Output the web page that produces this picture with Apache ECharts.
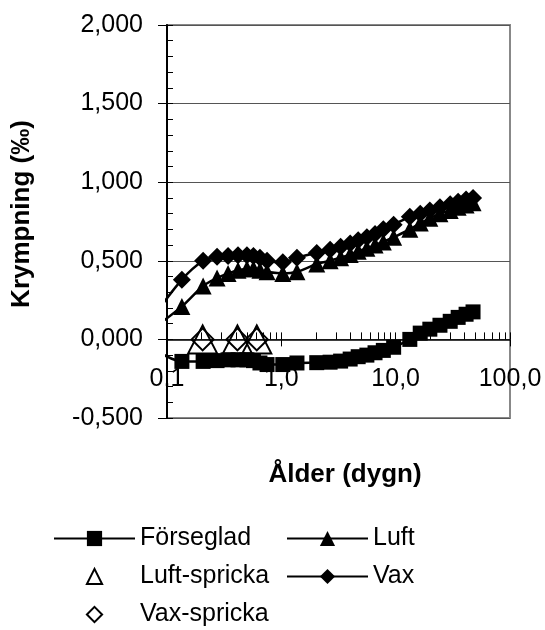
<!DOCTYPE html>
<html><head><meta charset="utf-8">
<script src="https://cdn.jsdelivr.net/npm/echarts@6/dist/echarts.min.js"></script>
<style>html,body{margin:0;padding:0;background:#fff}#c{width:545px;height:630px}</style>
</head><body><div id="c"></div>
<script>
// ---- data ----
const ages = [0.135,0.207,0.274,0.342,0.418,0.5,0.57,0.65,0.75,1.03,1.37,2.04,2.67,3.3,4.0,4.7,5.6,6.6,7.8,9.6,13.3,16.4,19.9,24.4,30,35.2,41.3,47.5];
const forsVal = [-0.14,-0.14,-0.135,-0.13,-0.13,-0.13,-0.135,-0.15,-0.16,-0.16,-0.15,-0.148,-0.145,-0.138,-0.125,-0.11,-0.10,-0.085,-0.07,-0.05,0.0,0.04,0.065,0.09,0.115,0.14,0.16,0.175];
const luftVal = [0.21,0.34,0.39,0.42,0.44,0.45,0.45,0.44,0.43,0.42,0.43,0.48,0.50,0.52,0.54,0.56,0.58,0.60,0.62,0.65,0.70,0.74,0.77,0.80,0.82,0.84,0.855,0.87];
const vaxVal = [0.38,0.50,0.525,0.53,0.535,0.535,0.53,0.52,0.50,0.49,0.52,0.55,0.57,0.59,0.61,0.63,0.65,0.67,0.70,0.73,0.78,0.80,0.82,0.84,0.86,0.875,0.89,0.90];
// earlier reading (before 0.1 dygn), only its line segment is visible
const leadAge = 0.074;
const leadFors = -0.055, leadLuft = 0.063, leadVax = 0.133;
const sprickaAge = [0.205, 0.413, 0.61];
const luftSprickaVal = [0, 0, 0];
const vaxSprickaVal = [0, 0, 0];
const seriesNames = ['Förseglad', 'Luft', 'Luft-spricka', 'Vax', 'Vax-spricka'];
const xTickValues = [0.1, 1, 10, 100];
const xTickLabels = ['0,1', '1,0', '10,0', '100,0'];
const xMinorTicks = [0.1,0.2,0.3,0.4,0.5,0.6,0.7,0.8,0.9,1,2,3,4,5,6,7,8,9,10,20,30,40,50,60,70,80,90,100];
const yTickValues = [-0.5, 0, 0.5, 1, 1.5, 2];
const yTickLabels = ['-0,500', '0,000', '0,500', '1,000', '1,500', '2,000'];
const xTitle = 'Ålder (dygn)';
const yTitle = 'Krympning (‰)';

const FONT = '"Liberation Sans", Arial, sans-serif';
const GRID = { left: 167, right: 35, top: 25, bottom: 212 };
const PLOT_H = 630 - GRID.top - GRID.bottom;
const Y_MIN = -0.5, Y_MAX = 2;
// x axis crosses the y axis at 0: shift it up from the grid bottom by the height of the span below 0
const X_AXIS_OFFSET = -PLOT_H * (0 - Y_MIN) / (Y_MAX - Y_MIN);

const pairs = (xs, ys) => xs.map((x, i) => [x, ys[i]]);
const withLead = (lead, vals) => [{ value: [leadAge, lead], symbol: 'none' }].concat(pairs(ages, vals));

function xLabel(v) {
  const i = xTickValues.findIndex(t => Math.abs(Math.log10(t) - Math.log10(v)) < 1e-6);
  return i >= 0 ? xTickLabels[i] : '';
}
function yLabel(v) {
  const i = yTickValues.findIndex(t => Math.abs(t - v) < 1e-6);
  return i >= 0 ? yTickLabels[i] : '';
}

const lineSeries = (name, vals, lead, symbol, size) => ({
  name, type: 'line', data: withLead(lead, vals), xAxisIndex: 0, yAxisIndex: 0,
  symbol, symbolSize: size, showAllSymbol: true, smooth: 0.3, clip: false,
  lineStyle: { color: '#000', width: 2.5 },
  itemStyle: { color: '#000' }, z: 3
});
const hollowSeries = (name, vals, symbol, size) => ({
  name, type: 'line', data: pairs(sprickaAge, vals), xAxisIndex: 0, yAxisIndex: 0,
  symbol, symbolSize: size, showAllSymbol: true, showSymbol: true,
  lineStyle: { width: 0, opacity: 0 },
  itemStyle: { color: 'rgba(255,255,255,0)', borderColor: '#000', borderWidth: 2 }, z: 4
});

const legendBase = {
  top: 526, padding: 0, orient: 'vertical', itemWidth: 81, itemHeight: 19, itemGap: 13,
  selectedMode: false,
  textStyle: { fontSize: 25, color: '#000', fontFamily: FONT }
};

const chart = echarts.init(document.getElementById('c'), null, { renderer: 'canvas' });
chart.setOption({
  animation: false,
  backgroundColor: '#fff',
  textStyle: { fontFamily: FONT, color: '#000' },
  grid: Object.assign({ show: true, borderColor: '#888', borderWidth: 2, backgroundColor: 'rgba(0,0,0,0)' }, GRID),
  xAxis: [{
    type: 'log', logBase: 10, min: 0.1, max: 100, position: 'bottom', offset: X_AXIS_OFFSET,
    axisLine: { show: true, onZero: false, lineStyle: { color: '#000', width: 1.5 } },
    axisTick: { show: true, inside: false, length: 7, lineStyle: { color: '#000', width: 1 } },
    axisLabel: { margin: 27, fontSize: 25, color: '#000', fontFamily: FONT, formatter: xLabel, showMinLabel: true, showMaxLabel: true },
    splitLine: { show: false }, minorTick: { show: false },
    name: xTitle, nameLocation: 'middle', nameGap: 122,
    nameTextStyle: { fontSize: 26, fontWeight: 'bold', color: '#000', fontFamily: FONT, padding: [0, 0, 0, 13] }
  }, {
    type: 'log', logBase: 10, min: 0.1, max: 100, position: 'bottom', offset: X_AXIS_OFFSET,
    axisLine: { show: false, onZero: false },
    axisTick: { show: true, inside: true, length: 7, customValues: xMinorTicks, lineStyle: { color: '#000', width: 1 } },
    axisLabel: { show: false }, splitLine: { show: false }
  }],
  yAxis: [{
    type: 'value', min: Y_MIN, max: Y_MAX, interval: 0.5, position: 'left',
    axisLine: { show: true, onZero: false, lineStyle: { color: '#000', width: 2 } },
    axisTick: { show: true, inside: false, length: 9, lineStyle: { color: '#000', width: 1 } },
    axisLabel: { margin: 24, fontSize: 25, color: '#000', fontFamily: FONT, formatter: yLabel },
    splitLine: { show: true, lineStyle: { color: '#555', width: 1 } },
    name: yTitle, nameLocation: 'middle', nameGap: 132,
    nameTextStyle: { fontSize: 26, fontWeight: 'bold', color: '#000', fontFamily: FONT, padding: [0, 0, 0, 15] }
  }, {
    type: 'value', min: Y_MIN, max: Y_MAX, interval: 0.1, position: 'left',
    axisLine: { show: false, onZero: false },
    axisTick: { show: true, inside: true, length: 6, lineStyle: { color: '#000', width: 1 } },
    axisLabel: { show: false }, splitLine: { show: false }
  }],
  legend: [
    Object.assign({}, legendBase, { left: 53, data: [seriesNames[0], seriesNames[2], seriesNames[4]] }),
    Object.assign({}, legendBase, { left: 286, data: [seriesNames[1], seriesNames[3]] })
  ],
  series: [
    lineSeries(seriesNames[0], forsVal, leadFors, 'rect', 15),
    lineSeries(seriesNames[1], luftVal, leadLuft, 'triangle', 17),
    hollowSeries(seriesNames[2], luftSprickaVal, 'triangle', [29, 28]),
    lineSeries(seriesNames[3], vaxVal, leadVax, 'diamond', 18),
    hollowSeries(seriesNames[4], vaxSprickaVal, 'diamond', 22)
  ]
});
</script></body></html>
